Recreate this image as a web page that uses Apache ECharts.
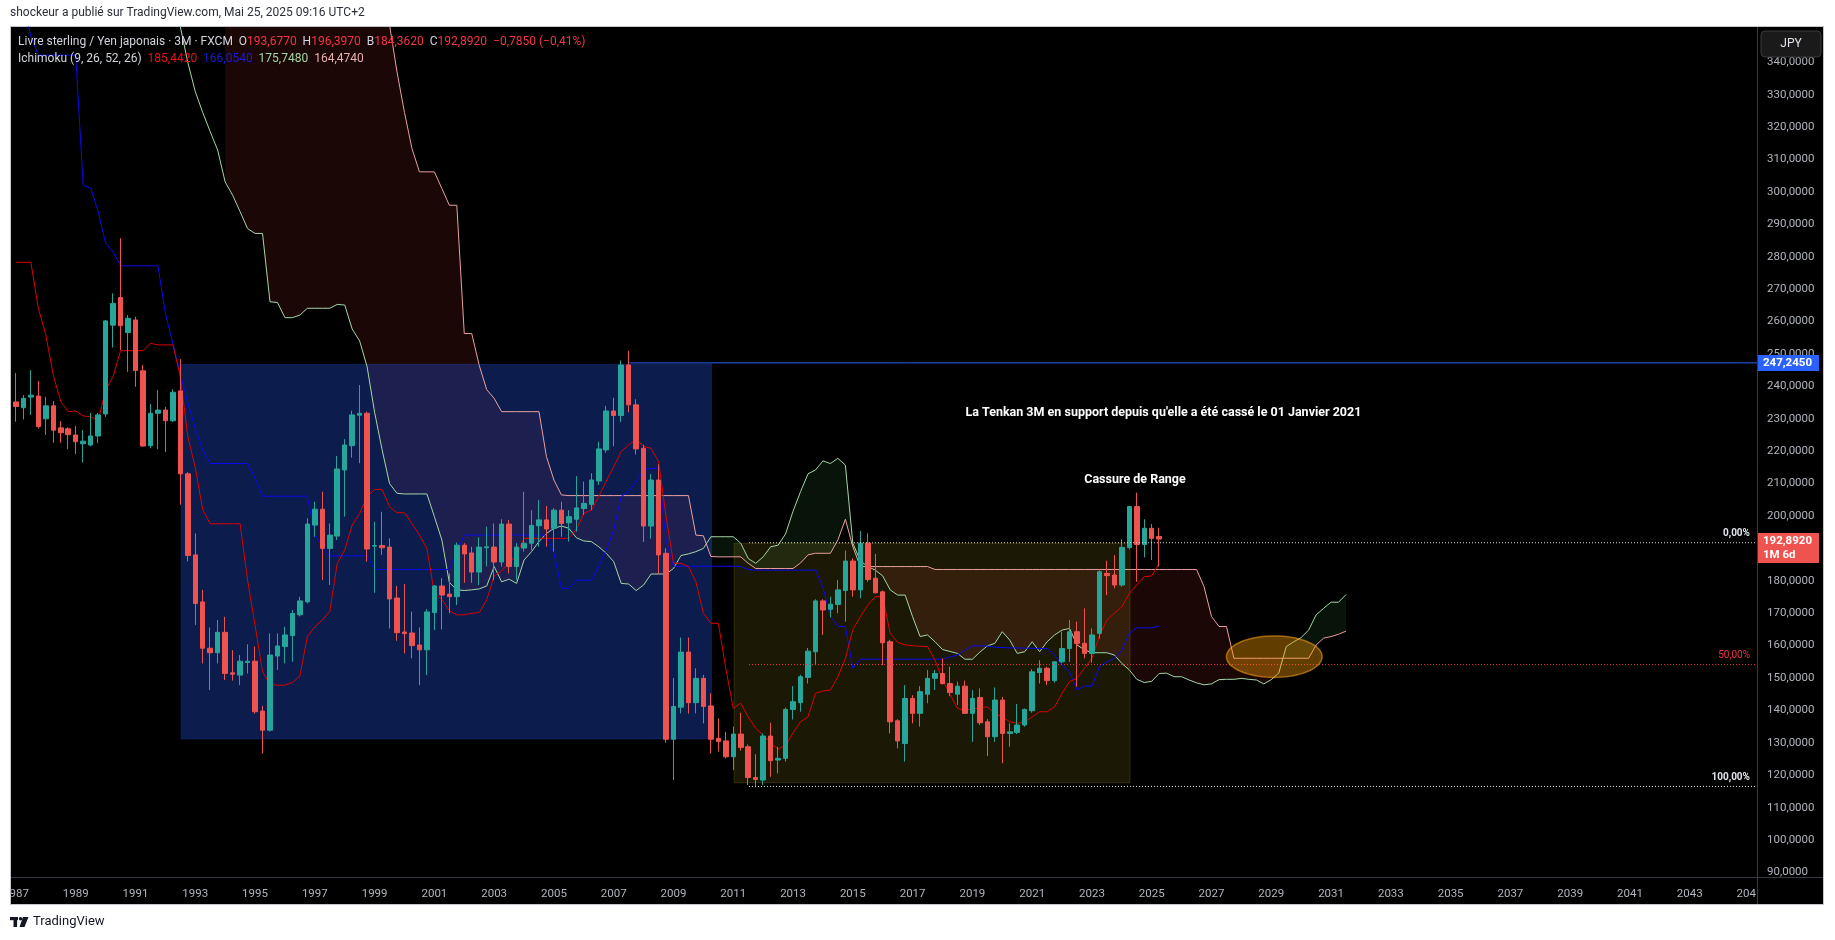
<!DOCTYPE html>
<html>
<head>
<meta charset="utf-8">
<script src="https://cdn.jsdelivr.net/npm/echarts@6/dist/echarts.min.js"></script>
<style>
html,body{margin:0;padding:0;background:#ffffff;}
#pane{position:absolute;left:10px;top:26px;width:1814px;height:879px;background:#000;border:1px solid #c3c5cb;box-sizing:border-box;}
#c{position:absolute;left:0;top:0;width:1835px;height:940px;}
</style>
</head>
<body>
<div id="pane"></div>
<div id="c"></div>
<script>
// ---------------- DATA (quarterly GBP/JPY, first bar = 1987 Q1) ----------------
const startYear = 1987;
const opens = [
235.2,233.4,236.7,237.0,230.0,234.0,227.2,226.9,225.0,222.3,
221.9,224.7,231.5,258.9,267.4,256.6,260.5,244.8,221.7,231.7,
232.7,229.4,238.6,213.0,188.0,173.5,159.2,157.8,164.1,151.6,
150.9,154.8,155.2,139.8,133.9,156.8,159.7,163.1,169.5,173.5,
197.2,202.1,190.0,193.8,214.2,221.7,231.1,231.7,190.7,190.9,
190.4,174.7,164.2,163.9,160.2,158.7,170.2,178.4,175.9,175.1,
191.0,188.6,182.7,190.2,190.4,185.8,197.5,184.4,190.1,191.6,
197.0,198.8,196.2,201.8,197.9,199.0,202.3,203.6,210.8,220.4,
232.4,231.0,246.6,234.3,220.9,196.9,211.1,188.5,131.1,141.0,
158.0,142.4,149.9,141.4,131.4,130.6,125.7,132.7,128.8,119.3,
118.5,132.1,124.7,125.2,140.3,142.4,150.2,158.1,173.8,171.2,
172.7,177.0,186.1,177.2,191.6,180.8,176.6,161.2,136.8,129.8,
143.7,139.1,145.0,149.9,151.4,148.3,145.0,147.5,139.1,144.0,
136.5,131.9,143.2,132.9,133.2,135.5,139.9,151.7,153.0,149.2,
155.0,159.1,164.3,160.7,157.6,163.8,182.3,181.8,178.7,190.3,
202.9,191.2,196.2,193.677
];
const highs = [
244.1,237.3,245.0,241.7,236.8,235.5,229.3,227.4,227.8,226.5,
231.8,231.8,260.5,268.7,285.7,262.0,261.5,246.6,234.6,238.9,
233.7,239.1,248.4,213.5,194.6,177.2,165.6,167.9,168.9,158.6,
157.1,160.4,159.7,141.4,163.8,163.8,165.8,171.0,175.1,199.3,
204.4,207.5,197.7,218.5,223.7,232.5,240.4,232.2,198.2,201.3,
193.1,178.4,179.0,170.5,165.6,171.2,178.7,180.8,182.3,191.8,
191.6,190.5,193.4,196.7,197.7,199.0,198.8,191.6,207.5,201.8,
204.9,203.1,202.4,204.4,201.8,212.3,210.6,213.2,222.9,234.0,
236.5,248.0,251.0,236.0,222.0,213.0,216.0,190.0,150.0,162.5,
162.5,153.0,151.0,145.3,137.5,133.4,135.0,139.3,129.5,126.5,
132.9,136.2,128.8,140.9,147.5,151.0,159.3,174.3,174.3,175.1,
180.2,189.3,186.9,195.4,194.6,188.3,177.0,161.8,137.3,147.8,
144.7,147.5,152.5,152.5,156.1,153.5,148.9,149.2,146.3,146.8,
137.3,147.1,144.2,136.0,142.0,140.6,152.7,155.5,153.5,155.2,
164.3,167.9,167.4,171.5,165.3,183.3,186.2,187.9,192.8,203.1,
207.2,199.0,197.5,196.397
];
const lows = [
229.1,229.8,231.2,227.0,225.0,222.6,222.6,220.6,219.1,216.5,
221.5,222.5,230.6,252.0,251.2,244.5,239.9,221.4,220.9,220.6,
219.8,229.0,203.5,186.0,166.4,154.5,146.3,154.5,149.4,149.2,
147.8,151.4,139.0,126.7,133.5,152.5,154.5,155.0,169.0,173.0,
193.6,180.2,178.7,192.6,199.8,218.0,216.3,185.9,176.3,188.0,
165.3,161.5,157.6,156.1,147.8,150.9,164.8,165.0,170.0,172.5,
179.4,179.4,178.7,184.4,180.2,184.4,182.3,180.2,189.0,189.5,
190.5,190.5,189.0,193.6,192.1,195.2,200.3,201.8,209.6,219.5,
221.5,229.0,232.0,219.0,192.0,193.0,182.0,130.0,118.5,139.1,
139.0,139.1,136.0,126.7,127.3,125.2,121.6,127.6,117.0,116.7,
117.0,119.5,120.6,124.2,137.2,139.6,148.3,154.0,163.3,168.7,
170.0,167.4,175.1,174.6,179.7,176.1,154.0,132.9,128.3,124.2,
136.0,135.0,142.2,146.3,148.0,144.4,141.7,138.9,130.3,135.5,
125.9,130.3,123.7,128.8,132.7,135.0,139.3,148.3,147.8,148.6,
154.5,155.0,147.3,156.1,154.7,162.2,175.6,177.7,178.2,189.7,
179.7,187.2,186.4,184.362
];
const closes = [
233.8,236.3,237.3,227.6,234.0,226.5,225.7,225.1,222.9,223.1,
224.7,231.2,260.2,265.6,258.7,261.0,244.9,221.6,231.7,232.7,
229.4,238.2,213.0,187.8,173.0,159.2,157.8,164.1,151.4,151.2,
155.2,155.2,139.6,133.9,157.1,159.9,163.3,169.9,173.8,197.5,
202.1,190.0,194.1,214.5,221.9,231.2,231.7,189.8,190.9,190.2,
174.4,164.0,163.7,160.0,158.7,170.4,178.4,175.6,175.1,191.0,
188.3,182.7,190.4,190.5,185.8,197.5,184.4,190.4,191.6,197.1,
198.8,196.0,201.8,197.7,199.8,202.5,203.9,211.1,220.7,232.4,
231.0,246.6,234.3,220.7,196.9,211.1,188.0,131.1,141.2,158.0,
142.4,149.9,141.2,131.1,130.4,125.7,132.7,128.6,119.3,118.7,
132.1,124.5,125.2,140.3,142.7,150.4,158.3,173.8,171.0,172.8,
177.2,186.1,177.2,191.6,180.4,176.3,160.9,136.5,130.6,143.7,
139.1,145.8,149.9,151.4,148.3,145.5,147.5,139.1,143.7,136.2,
131.9,143.2,132.9,133.4,135.5,140.3,151.9,153.0,149.2,155.0,
159.1,164.3,160.7,157.6,163.3,182.8,181.6,178.7,190.3,202.9,
191.2,196.2,193.1,192.892
];
// Ichimoku (9, 26, 52, 26)
const tenkan = [
278.3,278.3,278.3,264.1,255.9,243.5,235.3,232.2,232.4,230.9,
230.6,229.4,238.9,243.0,251.0,251.0,251.0,251.0,253.3,252.8,
252.8,252.8,243.0,224.5,215.0,201.9,197.6,197.6,197.6,197.6,
197.6,180.2,166.3,152.0,148.0,147.8,147.8,148.6,150.6,162.8,
165.8,167.9,170.5,185.4,189.5,197.2,200.8,206.0,208.2,208.2,
202.9,201.0,201.0,197.7,194.1,190.0,176.1,174.3,170.8,169.5,
169.5,170.0,170.2,174.1,181.5,183.0,185.5,188.0,193.1,193.1,
193.1,193.1,193.1,193.1,193.1,195.9,200.8,201.8,206.0,210.8,
215.2,219.9,221.9,223.7,221.4,220.9,216.8,200.0,185.4,185.4,
184.4,179.7,170.0,166.9,166.9,153.0,140.6,142.2,138.0,134.5,
132.4,130.0,128.0,129.3,133.0,136.5,138.0,145.3,146.0,146.3,
150.4,156.0,165.0,168.9,172.5,175.1,175.1,163.8,161.0,160.2,
160.0,159.8,159.7,155.5,149.5,145.0,140.6,140.1,140.5,140.8,
141.1,139.1,138.0,136.5,136.0,136.5,138.0,139.6,139.6,141.1,
145.3,148.9,149.9,153.0,156.1,163.0,167.9,170.0,172.0,176.1,
178.7,181.3,181.5,185.442
];
const kijun = [
368.0,358.0,348.0,342.2,342.2,342.2,342.2,342.2,342.2,302.0,
301.2,294.0,284.2,281.5,277.2,277.2,277.2,277.2,277.2,277.2,
262.6,253.3,244.0,235.0,227.0,220.4,216.2,216.2,216.2,216.2,
216.2,216.2,211.6,206.1,206.1,206.1,206.1,206.1,206.1,206.1,
194.4,190.3,187.7,187.7,187.7,187.7,187.7,187.7,183.5,183.5,
183.5,183.5,183.5,183.5,183.5,183.5,183.5,183.5,183.5,189.0,
194.1,194.1,194.1,194.1,194.1,194.1,194.1,194.1,194.1,194.1,
194.1,194.1,188.5,177.7,177.7,180.2,180.2,180.2,184.4,189.5,
195.7,206.0,207.5,210.5,214.2,214.7,214.7,192.6,184.5,184.5,
184.5,184.5,184.5,184.5,184.5,184.5,184.5,184.4,183.5,183.3,
183.3,183.3,183.3,183.3,183.3,183.3,183.3,183.3,178.0,169.0,
166.0,165.8,153.0,155.8,155.8,155.8,155.8,155.8,155.8,155.8,
155.8,155.8,155.8,155.8,155.8,156.5,157.1,158.5,159.9,159.9,
159.9,159.5,159.4,159.3,159.3,159.2,159.2,159.1,159.1,157.1,
154.0,151.9,146.3,147.5,147.5,153.5,155.0,156.1,158.6,163.8,
165.5,165.5,165.5,166.054
];
const senkouA = [
null,null,null,null,null,null,null,null,null,null,
null,null,null,null,null,null,null,null,null,null,
null,362.0,351.0,340.0,331.0,324.5,318.6,312.9,303.1,299.0,
293.9,288.7,287.2,287.2,266.1,265.9,261.2,261.2,262.0,264.1,
264.1,264.1,264.1,265.3,265.1,257.7,254.0,246.0,232.0,220.5,
210.0,207.0,206.8,206.8,206.8,206.8,199.8,192.6,179.5,177.2,
177.0,177.2,177.5,178.4,184.4,179.7,180.5,179.2,186.4,189.0,
192.1,194.6,196.2,196.9,196.2,193.3,192.3,192.1,190.5,188.5,
185.9,179.2,179.0,177.0,178.7,182.1,182.1,182.1,183.8,187.8,
188.3,189.0,190.0,193.6,193.6,193.6,193.6,191.6,186.9,185.4,
187.4,190.5,191.0,194.5,201.5,207.5,213.0,214.2,217.0,216.2,
217.8,215.7,191.6,186.2,184.4,183.3,181.5,177.2,175.6,175.6,
168.9,162.8,163.3,161.2,158.8,158.2,157.6,155.8,155.8,158.0,
159.9,160.7,164.3,161.7,157.6,158.1,161.2,158.1,161.2,163.3,
164.8,165.3,160.2,158.7,157.8,157.8,157.8,157.1,154.5,152.5,
149.6,148.6,149.0,151.4,151.5,150.4,150.4,149.4,148.5,147.9,
148.2,149.5,149.6,149.6,149.9,149.6,149.4,148.2,149.5,151.5,
159.7,161.2,162.5,164.8,169.5,171.5,173.4,173.4,175.748
];
const senkouB = [
null,null,null,null,null,null,null,null,null,null,
null,null,null,null,null,null,null,null,null,null,
null,null,null,null,null,null,null,null,390.0,390.0,
390.0,390.0,390.0,390.0,390.0,390.0,390.0,390.0,390.0,390.0,
390.0,390.0,390.0,390.0,390.0,390.0,390.0,385.0,375.0,365.0,
351.5,337.0,324.5,313.4,306.2,306.2,306.2,301.1,295.9,295.9,
256.3,256.3,246.5,239.0,236.3,232.2,232.2,232.2,232.2,232.2,
232.2,218.3,211.1,206.5,206.3,206.3,206.3,206.3,206.3,206.3,
206.3,206.3,206.3,206.3,206.3,206.3,206.3,206.3,206.3,206.3,
206.3,194.1,193.9,187.5,187.4,187.4,187.4,187.4,185.4,183.8,
183.8,183.8,183.8,183.8,183.8,185.5,188.0,188.5,188.5,188.5,
192.6,199.0,190.5,184.4,184.4,184.4,184.4,184.4,184.4,184.4,
184.4,184.4,184.4,183.5,183.5,183.5,183.5,183.5,183.5,183.5,
183.5,183.5,183.5,183.5,183.5,183.5,183.5,183.5,183.5,183.5,
183.5,183.5,183.5,183.5,183.5,183.5,183.5,183.5,183.5,183.5,
183.5,183.5,183.5,183.5,183.5,183.5,183.5,183.5,183.5,178.2,
169.0,165.9,165.9,156.1,156.1,156.1,156.1,156.1,156.1,156.1,
156.1,156.1,156.1,156.1,160.2,162.3,162.8,163.5,164.474
];
// Drawings (values in price / years-since-1987)
const rangeHigh = 247.245;
const fibValues = [191.75, 154.15, 116.55];
const fibLabels = ['0,00%', '50,00%', '100,00%'];
const boxes = [
  {x0: 5.525, x1: 23.275, y0: 131.2, y1: 246.8, fill: 'rgba(33,76,205,0.37)', stroke: 'rgba(33,76,205,0.25)'},
  {x0: 24.025, x1: 37.275, y0: 117.7, y1: 191.6, fill: 'rgba(255,235,59,0.105)', stroke: 'rgba(255,235,59,0.14)'}
];
const ellipse = {cx: 42.1, cy: 156.6, rx: 1.6, ry: 6.4};
const notes = [
  {x: 38.39, y: 231.9, text: "La Tenkan 3M en support depuis qu'elle a été cassé le 01 Janvier 2021"},
  {x: 37.44, y: 211.1, text: 'Cassure de Range'}
];

// ---------------- CHART ----------------
const X_MIN = -0.05, X_MAX = 58.25, Y_MIN = 88.6, Y_MAX = 350.9;
const FONT = 'Roboto, "Liberation Sans", sans-serif';
const qx = i => i / 4;
const candleData = opens.map((o, i) => [qx(i), o, closes[i], lows[i], highs[i]]);
const lineData = arr => arr.map((v, i) => [qx(i), v]).filter(p => p[1] != null);

function cloudRuns() {
  const runs = []; let cur = null;
  for (let i = 0; i < senkouA.length; i++) {
    const a = senkouA[i], b = senkouB[i];
    if (a == null || b == null) { if (cur) { runs.push(cur); cur = null; } continue; }
    const x = qx(i), d = a - b, sg = d > 0 ? 1 : (d < 0 ? -1 : 0);
    if (!cur) { cur = {sign: sg, top: [[x, a]], bot: [[x, b]]}; continue; }
    if (sg !== 0 && cur.sign !== 0 && cur.sign !== sg) {
      const pa = senkouA[i - 1], pb = senkouB[i - 1], pd = pa - pb;
      const t = pd / (pd - d);
      const xm = qx(i - 1) + t * 0.25, ym = pa + t * (a - pa);
      cur.top.push([xm, ym]); cur.bot.push([xm, ym]); runs.push(cur);
      cur = {sign: sg, top: [[xm, ym], [x, a]], bot: [[xm, ym], [x, b]]};
    } else {
      cur.top.push([x, a]); cur.bot.push([x, b]);
      if (cur.sign === 0) cur.sign = sg;
    }
  }
  if (cur) runs.push(cur);
  return runs;
}
const runs = cloudRuns();

const chart = echarts.init(document.getElementById('c'), null, {width: 1835, height: 940});
const option = {
  backgroundColor: 'transparent',
  animation: false,
  grid: {left: 10, right: 78, top: 27, bottom: 63, containLabel: false},
  xAxis: {
    type: 'value', min: X_MIN, max: X_MAX, splitNumber: 29,
    axisLine: {show: false}, axisTick: {show: false}, splitLine: {show: false},
    axisLabel: {
      color: '#b2b5be', fontSize: 11.5, fontFamily: FONT, margin: 11,
      formatter: v => (Math.abs(v - Math.round(v)) < 1e-6 && Math.round(v) % 2 === 0) ? String(startYear + Math.round(v)) : ''
    }
  },
  yAxis: {
    type: 'value', position: 'right', min: Y_MIN, max: Y_MAX, splitNumber: 26, scale: true,
    axisLine: {show: false}, axisTick: {show: false}, splitLine: {show: false},
    axisLabel: {
      color: '#b2b5be', fontSize: 11.5, fontFamily: FONT, margin: 10,
      formatter: v => { const r = Math.round(v); if (Math.abs(v - r) > 1e-6 || r % 10 !== 0 || r > 340) return ''; return r.toFixed(4).replace('.', ','); }
    }
  },
  series: [
    { // Kumo fill
      type: 'custom', silent: true, z: 1, data: [[0, 0]],
      renderItem: (params, api) => {
        const cs = params.coordSys;
        const P = p => { const c = api.coord(p); return [c[0], Math.max(cs.y, Math.min(cs.y + cs.height, c[1]))]; };
        return {type: 'group', children: runs.map(r => ({
          type: 'polygon', silent: true,
          shape: {points: r.top.concat(r.bot.slice().reverse()).map(P)},
          style: {fill: r.sign > 0 ? 'rgba(67,160,71,0.12)' : 'rgba(244,67,54,0.11)'}
        }))};
      }
    },
    { // rectangles
      type: 'custom', silent: true, z: 1,
      data: boxes.map(b => [b.x0, b.y0]),
      renderItem: (params, api) => {
        const b = boxes[params.dataIndex];
        const p0 = api.coord([b.x0, b.y1]), p1 = api.coord([b.x1, b.y0]);
        return {type: 'rect', shape: {x: p0[0], y: p0[1], width: p1[0] - p0[0], height: p1[1] - p0[1]},
          style: {fill: b.fill, stroke: b.stroke, lineWidth: 1}};
      }
    },
    {type: 'line', name: 'SenkouA', data: lineData(senkouA), symbol: 'none', z: 2, lineStyle: {color: '#a5d6a7', width: 1}},
    {type: 'line', name: 'SenkouB', data: lineData(senkouB), symbol: 'none', z: 2, lineStyle: {color: '#e8a0a0', width: 1}},
    {type: 'line', name: 'Kijun', data: lineData(kijun), symbol: 'none', z: 2, lineStyle: {color: '#0a0aee', width: 1}},
    {type: 'line', name: 'Tenkan', data: lineData(tenkan), symbol: 'none', z: 2, lineStyle: {color: '#dd0000', width: 1}},
    {
      type: 'candlestick', data: candleData, barWidth: 5, z: 3,
      itemStyle: {color: '#26a69a', color0: '#ef5350', borderColor: '#26a69a', borderColor0: '#ef5350', borderColorDoji: '#26a69a', borderWidth: 1}
    },
    {type: 'line', data: [[20.525, rangeHigh], [X_MAX, rangeHigh]], symbol: 'none', z: 4, lineStyle: {color: '#2962ff', width: 1}},
    ...fibValues.map((v, i) => ({
      type: 'line', data: [[24.525, v], [X_MAX, v]], symbol: 'none', z: 4,
      lineStyle: {color: i === 1 ? '#f23645' : '#e0e3eb', width: 1, type: [1, 2]}
    })),
    { // ellipse highlight
      type: 'custom', silent: true, z: 5, data: [[ellipse.cx, ellipse.cy]],
      renderItem: (params, api) => {
        const pts = [];
        for (let k = 0; k < 72; k++) {
          const t = k / 72 * Math.PI * 2;
          pts.push(api.coord([ellipse.cx + ellipse.rx * Math.cos(t), ellipse.cy + ellipse.ry * Math.sin(t)]));
        }
        return {type: 'polygon', shape: {points: pts}, style: {fill: 'rgba(255,160,0,0.38)', stroke: 'rgba(255,165,20,0.55)', lineWidth: 1.5}};
      }
    }
  ]
};
chart.setOption(option);

const toPx = (x, y) => chart.convertToPixel({xAxisIndex: 0, yAxisIndex: 0}, [x, y]);
const g = [];
// separators
g.push({type: 'line', shape: {x1: 1757.5, y1: 27, x2: 1757.5, y2: 904}, style: {stroke: '#363a45', lineWidth: 1}, z: 50});
g.push({type: 'line', shape: {x1: 11, y1: 877.5, x2: 1823, y2: 877.5}, style: {stroke: '#363a45', lineWidth: 1}, z: 50});
// clip axis labels at pane edges
g.push({type: 'rect', shape: {x: 0, y: 870, width: 10, height: 40}, style: {fill: '#ffffff'}, z: 60});
g.push({type: 'rect', shape: {x: 1758, y: 878, width: 65, height: 26}, style: {fill: '#000000'}, z: 60});
// header
g.push({type: 'text', x: 10, y: 13, style: {text: 'shockeur a publié sur TradingView.com, Mai 25, 2025 09:16 UTC+2', fill: '#2a2e39', font: '12px ' + FONT, verticalAlign: 'middle'}, z: 60});
// legend lines
const lastI = closes.length - 1;
const fmt = v => v.toFixed(4).replace('.', ',');
g.push({type: 'text', x: 18, y: 42, z: 60, style: {
  text: '{t|Livre sterling / Yen japonais · 3M · FXCM}  {l|O}{r|' + fmt(opens[lastI]) + '}  {l|H}{r|' + fmt(highs[lastI]) + '}  {l|B}{r|' + fmt(lows[lastI]) + '}  {l|C}{r|' + fmt(closes[lastI]) + '}  {r|−0,7850 (−0,41%)}',
  verticalAlign: 'middle', font: '12px ' + FONT,
  rich: {t: {fill: '#d1d4dc', font: '12px ' + FONT}, l: {fill: '#d1d4dc', font: '12px ' + FONT}, r: {fill: '#f23645', font: '12px ' + FONT}}
}});
g.push({type: 'text', x: 18, y: 59, z: 60, style: {
  text: '{t|Ichimoku (9, 26, 52, 26)}  {a|' + fmt(tenkan[lastI]) + '}  {b|' + fmt(kijun[lastI]) + '}  {c|' + fmt(senkouA[senkouA.length - 1]) + '}  {d|' + fmt(senkouB[senkouB.length - 1]) + '}',
  verticalAlign: 'middle', font: '12px ' + FONT,
  rich: {t: {fill: '#d1d4dc', font: '12px ' + FONT}, a: {fill: '#ee1111', font: '12px ' + FONT}, b: {fill: '#1c1cd6', font: '12px ' + FONT},
         c: {fill: '#a5d6a7', font: '12px ' + FONT}, d: {fill: '#e8b0b0', font: '12px ' + FONT}}
}});
// JPY button
g.push({type: 'rect', shape: {x: 1761, y: 31, width: 60, height: 26, r: 4}, style: {fill: '#1a1a1a', stroke: '#3a3a3a', lineWidth: 1}, z: 60});
g.push({type: 'text', x: 1791, y: 44, style: {text: 'JPY', fill: '#e0e3eb', font: '12px ' + FONT, align: 'center', verticalAlign: 'middle'}, z: 61});
// price labels on axis
const yRange = toPx(0, rangeHigh)[1];
g.push({type: 'rect', shape: {x: 1758, y: yRange - 8, width: 61, height: 16}, style: {fill: '#2962ff'}, z: 60});
g.push({type: 'text', x: 1763, y: yRange, style: {text: fmt(rangeHigh), fill: '#ffffff', font: 'bold 11.5px ' + FONT, verticalAlign: 'middle'}, z: 61});
const yLast = toPx(0, closes[lastI])[1];
g.push({type: 'rect', shape: {x: 1758, y: yLast - 6, width: 61, height: 30}, style: {fill: '#ef5350'}, z: 60});
g.push({type: 'text', x: 1763, y: yLast + 2.5, style: {text: fmt(closes[lastI]), fill: '#ffffff', font: 'bold 11.5px ' + FONT, verticalAlign: 'middle'}, z: 61});
g.push({type: 'text', x: 1763, y: yLast + 16, style: {text: '1M 6d', fill: '#ffffff', font: 'bold 11.5px ' + FONT, verticalAlign: 'middle'}, z: 61});
// fib labels
fibValues.forEach((v, i) => {
  const y = toPx(0, v)[1];
  g.push({type: 'text', x: 1750, y: y - 9, style: {text: fibLabels[i], fill: i === 1 ? '#f23645' : '#e0e3eb', font: (i === 1 ? '' : 'bold ') + '10px ' + FONT, align: 'right', verticalAlign: 'middle'}, z: 60});
});
// notes
notes.forEach(n => {
  const p = toPx(n.x, n.y);
  g.push({type: 'text', x: p[0], y: p[1], style: {text: n.text, fill: '#ffffff', font: 'bold 12.5px ' + FONT, align: 'center', verticalAlign: 'middle'}, z: 60});
});
// TradingView logo
g.push({type: 'rect', shape: {x: 10, y: 917, width: 8, height: 3.2}, style: {fill: '#131722'}, z: 60});
g.push({type: 'rect', shape: {x: 13.5, y: 917, width: 3.6, height: 10}, style: {fill: '#131722'}, z: 60});
g.push({type: 'circle', shape: {cx: 20.6, cy: 918.8, r: 1.8}, style: {fill: '#131722'}, z: 60});
g.push({type: 'polygon', shape: {points: [[23, 917], [28.5, 917], [24.5, 927], [19.5, 927]]}, style: {fill: '#131722'}, z: 60});
g.push({type: 'text', x: 33, y: 922, style: {text: 'TradingView', fill: '#131722', font: '13px ' + FONT, verticalAlign: 'middle'}, z: 60});

chart.setOption({graphic: {elements: g}});
</script>
</body>
</html>
